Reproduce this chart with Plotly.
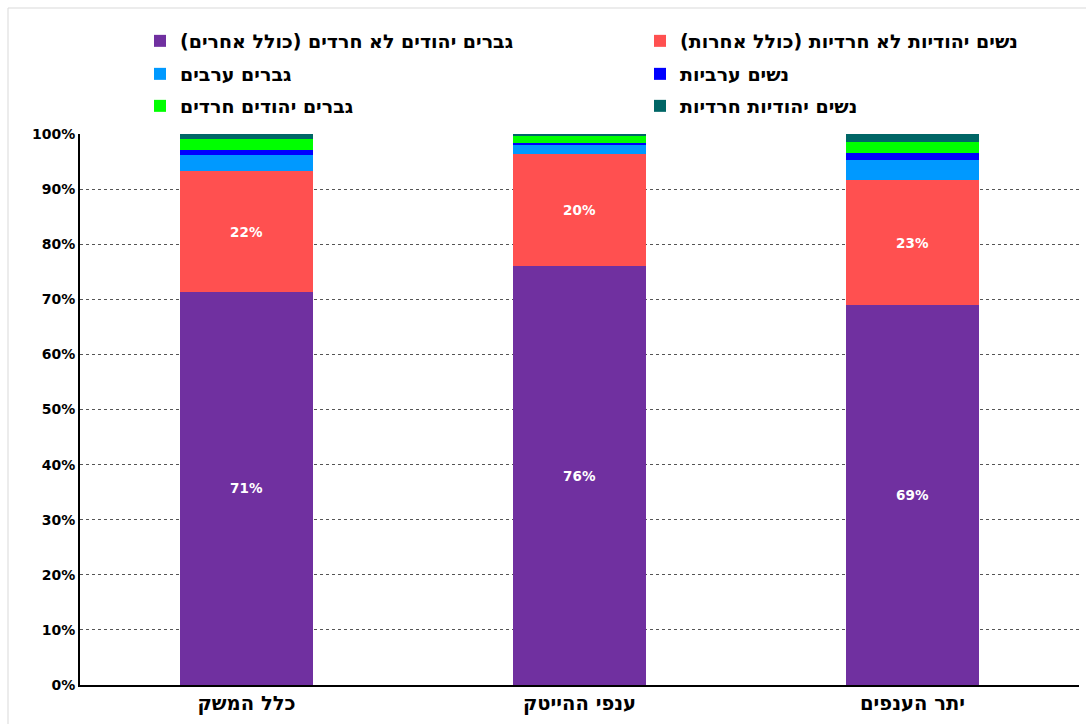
import plotly.graph_objects as go

# Categories (x axis)
categories = ["כלל המשק", "ענפי ההייטק", "יתר הענפים"]

# Share of employees by population group, percent of each category
men_jewish_non_haredi = [71.4, 76.0, 69.0]
women_jewish_non_haredi = [21.8, 20.3, 22.6]
men_arab = [3.0, 1.8, 3.6]
women_arab = [0.9, 0.35, 1.3]
men_haredi = [2.0, 1.15, 2.1]
women_haredi = [0.9, 0.4, 1.4]

series_names = [
    "גברים יהודים לא חרדים (כולל אחרים)",
    "נשים יהודיות לא חרדיות (כולל אחרות)",
    "גברים ערבים",
    "נשים ערביות",
    "גברים יהודים חרדים",
    "נשים יהודיות חרדיות",
]
series_values = [
    men_jewish_non_haredi,
    women_jewish_non_haredi,
    men_arab,
    women_arab,
    men_haredi,
    women_haredi,
]
series_colors = ["#7030A0", "#FF5050", "#0099FF", "#0000FF", "#00FF00", "#006666"]
show_labels = [True, True, False, False, False, False]
legend_ids = ["legend", "legend", "legend2", "legend2", "legend3", "legend3"]

FONT = "DejaVu Sans"
RLM = "\u200f"

W, H = 1086, 724
M_L, M_R, M_T, M_B = 80, 7, 134, 39

fig = go.Figure()
for name, vals, color, lab, lg in zip(series_names, series_values, series_colors,
                                      show_labels, legend_ids):
    fig.add_trace(go.Bar(
        x=categories,
        y=vals,
        name=RLM + name + RLM,
        marker=dict(color=color, line=dict(width=0)),
        text=[f"{round(v):.0f}%" for v in vals] if lab else None,
        textposition="inside" if lab else "none",
        insidetextanchor="middle",
        textangle=0,
        textfont=dict(family=FONT, size=13.5, color="white", weight="bold"),
        legend=lg,
        hoverinfo="x+y+name",
    ))

legend_common = dict(
    orientation="h",
    xref="container",
    yref="container",
    x=140 / W,
    xanchor="left",
    yanchor="middle",
    traceorder="normal",
    entrywidth=455,
    entrywidthmode="pixels",
    font=dict(family=FONT, size=19, color="black", weight="bold"),
    bgcolor="rgba(0,0,0,0)",
    borderwidth=0,
)

# light chart-area frame (top and left edges fall inside the page)
plot_w = W - M_L - M_R
plot_h = H - M_T - M_B
def px_to_paper_x(px):
    return (px - M_L) / plot_w
def px_to_paper_y(py):
    return (H - M_B - py) / plot_h

fig.update_layout(
    width=W,
    height=H,
    barmode="stack",
    bargap=0.6,
    paper_bgcolor="white",
    plot_bgcolor="white",
    margin=dict(l=M_L, r=M_R, t=M_T, b=M_B, autoexpand=False),
    font=dict(family=FONT, color="black"),
    legend=dict(**legend_common, y=1 - 41 / H),
    legend2=dict(**legend_common, y=1 - 74 / H),
    legend3=dict(**legend_common, y=1 - 106 / H),
    xaxis=dict(
        showline=True,
        linecolor="black",
        linewidth=2,
        ticks="",
        tickfont=dict(family=FONT, size=19.5, color="black", weight="bold"),
        showgrid=False,
    ),
    yaxis=dict(
        range=[0, 100],
        dtick=10,
        ticksuffix="%",
        showline=True,
        linecolor="black",
        linewidth=2,
        showgrid=True,
        gridcolor="#555555",
        griddash="dot",
        gridwidth=1,
        zeroline=False,
        ticks="",
        tickfont=dict(family=FONT, size=14, color="black", weight="bold"),
    ),
    shapes=[dict(
        type="rect",
        xref="paper", yref="paper",
        x0=px_to_paper_x(8), x1=px_to_paper_x(W + 5),
        y0=px_to_paper_y(H + 5), y1=px_to_paper_y(8),
        line=dict(color="#D9D9D9", width=1),
        fillcolor="rgba(0,0,0,0)",
        layer="below",
    )],
    uniformtext=dict(mode="show", minsize=10),
)

fig.write_html("out.html")
